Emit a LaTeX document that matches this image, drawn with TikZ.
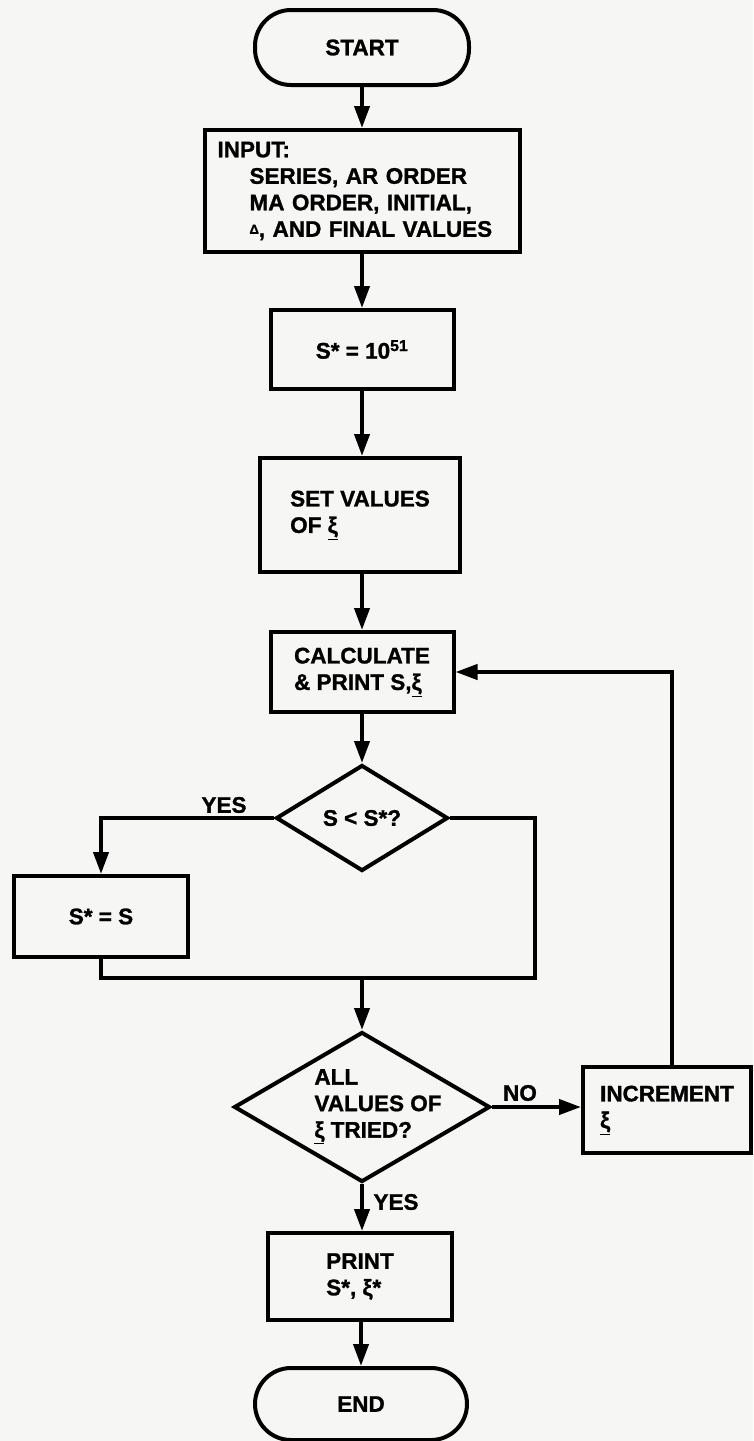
\documentclass[tikz,border=0pt]{standalone}
\usepackage{fontspec}
\setmainfont{Liberation Sans}[BoldFeatures={FakeBold=1.2}]
\usetikzlibrary{shapes.geometric,arrows.meta}
\definecolor{bg}{RGB}{246,246,244}
\begin{document}
\begin{tikzpicture}[x=1pt,y=-1pt,
  every node/.style={font=\fontsize{22.5}{26.5}\selectfont\bfseries},
  ln/.style={line width=4pt},
  arr/.style={ln,-{Triangle[length=22pt,width=15pt]}},
  box/.style={draw,ln,rectangle,inner sep=0pt,align=left},
  term/.style={draw,ln,rectangle,rounded corners=36pt,inner sep=0pt},
  dec/.style={draw,ln,diamond,inner sep=0pt},
  lbl/.style={inner sep=0pt}]
\useasboundingbox (0,0) rectangle (753,1441);
\fill[bg] (0,0) rectangle (753,1441);

\node[term, minimum width=214pt, minimum height=75pt] (start) at (362,47.5) {START};
\node[box, minimum width=315pt, minimum height=122pt, text width=290pt] (input) at (362.5,191)
  {INPUT:\\\hspace*{32pt}SERIES, AR ORDER\\\hspace*{32pt}MA ORDER, INITIAL,\\\hspace*{32pt}\raisebox{3pt}{\fontsize{13}{13}\selectfont Δ}, AND FINAL VALUES};
\node[box, minimum width=183pt, minimum height=79pt] (sinit) at (362,349.5) {S* = 10\textsuperscript{51}};
\node[box, minimum width=200pt, minimum height=114pt] (setv) at (360,515) {SET VALUES\\OF \underline{ξ}};
\node[box, minimum width=183pt, minimum height=80pt] (calc) at (362,672) {CALCULATE\\\& PRINT S,\underline{ξ}};
\node[dec, minimum width=172pt, minimum height=106pt, aspect=1.6] (d1) at (362,818) {S < S*?};
\node[box, minimum width=174pt, minimum height=81pt] (sS) at (101,916.5) {S* = S};
\node[dec, minimum width=256pt, minimum height=150pt] (d2) at (362,1107)
  {\smash{\makebox[0pt]{\hspace*{32pt}\raisebox{-4pt}{\begin{tabular}{@{}l@{}}ALL\\VALUES OF\\\underline{ξ} TRIED?\end{tabular}}}}};
\node[box, minimum width=168pt, minimum height=86pt] (inc) at (667,1110) {INCREMENT\\\underline{ξ}};
\node[box, minimum width=184pt, minimum height=87pt] (print) at (360,1276.5) {PRINT\\S*, ξ*};
\node[term, minimum width=212pt, minimum height=72pt] (end) at (361,1404) {END};

\node[lbl] (yes1) at (224,805) {YES};
\node[lbl] (no) at (520,1093) {NO};
\node[lbl] (yes2) at (396,1202) {YES};

\coordinate (rc) at (535,978);
\coordinate (lc) at (101,978);
\coordinate (m) at (362,978);
\coordinate (rt) at (672,672);

\draw[arr] (start.south) -- (start.south |- input.north);
\draw[arr] (input.south -| sinit.north) -- (sinit.north);
\draw[arr] (sinit.south) -- (sinit.south |- setv.north);
\draw[arr] (setv.south -| calc.south) -- (calc.north);
\draw[arr] (calc.south) -- (d1.north);
\draw[arr] (d1.west) -| (sS.north);
\draw[ln] (d1.east) -| (rc) -- (lc) -- (sS.south);
\draw[arr] (m) -- (d2.north);
\draw[arr] (d2.east) -- (d2.east -| inc.west);
\draw[arr] (rt |- inc.north) -- (rt) -- (calc.east);
\draw[arr] (d2.south) -- (d2.south |- print.north);
\draw[arr] (print.south -| end.north) -- (end.north);
\end{tikzpicture}
\end{document}
